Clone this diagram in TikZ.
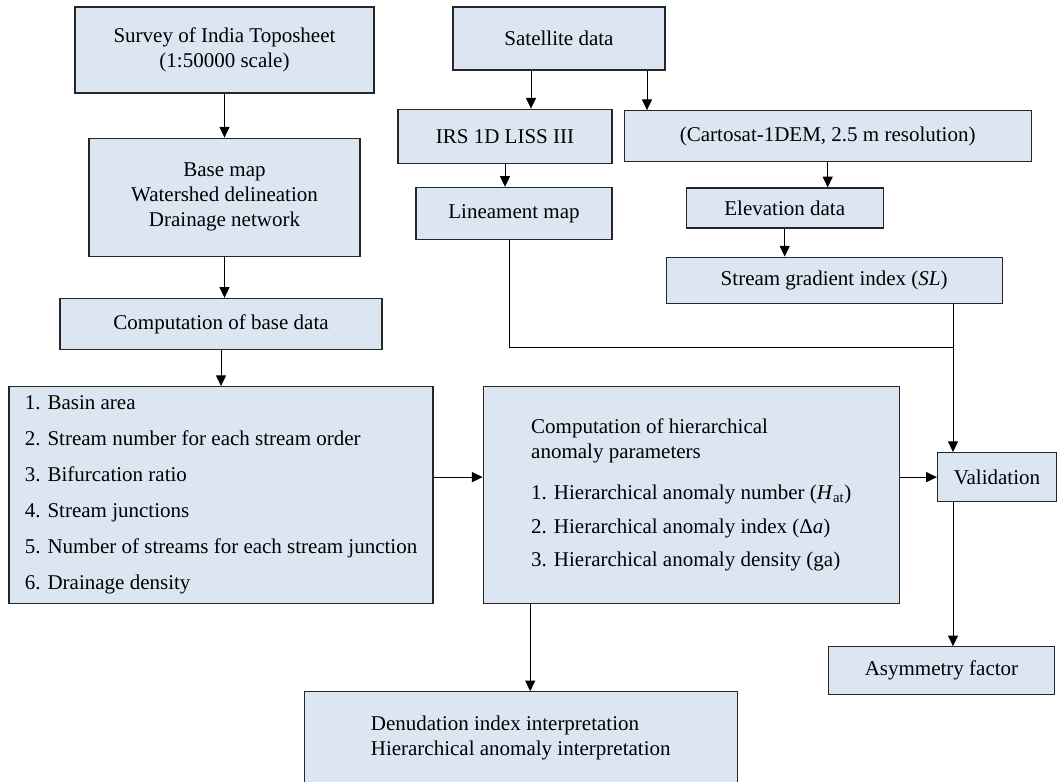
\documentclass[tikz,border=0pt]{standalone}
\usepackage{fontspec}
\setmainfont{Liberation Serif}
\usetikzlibrary{arrows.meta, positioning}

\definecolor{boxblue}{RGB}{220,230,242}

\begin{document}
\begin{tikzpicture}[x=0.75pt, y=-0.75pt,
    every node/.style={font=\fontsize{15.75}{18.75}\selectfont},
    box/.style={draw=black!85, line width=0.9pt, fill=boxblue, align=center, inner sep=0pt},
    flow/.style={draw=black, line width=0.75pt, -{Triangle[length=8pt,width=7.5pt]}}]
    \useasboundingbox (0,0) rectangle (1057,782);

        % Nodes
        \node (surveySheet) [box, minimum width=224.25pt, minimum height=64.5pt] at (224.5,50) {Survey of India Toposheet\\(1:50000 scale)};
        \node (baseMap) [box, minimum width=203.25pt, minimum height=88.5pt, below=33pt of surveySheet] {Base map\\Watershed delineation\\Drainage network};
        \node (baseData) [box, minimum width=241.5pt, minimum height=38.25pt, below=30.75pt of baseMap, xshift=-2.6pt] {Computation of base data};
        \node (basinList) [box, align=left, minimum width=318pt, minimum height=162.75pt, below=27pt of baseData] {1. Basin area\\[8.25pt]2. Stream number for each stream order\\[8.25pt]3. Bifurcation ratio\\[8.25pt]4. Stream junctions\\[8.25pt]5. Number of streams for each stream junction\\[8.25pt]6. Drainage density};
        \node (anomalyParams) [box, align=left, minimum width=312pt, minimum height=162.75pt, right=36.75pt of basinList] {Computation of hierarchical\\anomaly parameters\\[12pt]1. Hierarchical anomaly number (\textit{H}\textsubscript{at})\\[6.4pt]2. Hierarchical anomaly index (Δ\textit{a})\\[6.4pt]3. Hierarchical anomaly density (ga)};
        \node (interpretation) [box, align=left, minimum width=324.75pt, minimum height=69.75pt, below=65.25pt of anomalyParams, xshift=-127.9pt] {Denudation index interpretation\\Hierarchical anomaly interpretation};
        \node (satelliteData) [box, minimum width=159pt, minimum height=47.25pt] at (559,38.5) {Satellite data};
        \node (irsLiss) [box, minimum width=160.5pt, minimum height=40.5pt, below=28.5pt of satelliteData, xshift=-40.5pt] {IRS 1D LISS III};
        \node (cartosatDem) [box, minimum width=305.25pt, minimum height=38.25pt, right=8.25pt of irsLiss] {(Cartosat-1DEM, 2.5 m resolution)};
        \node (lineamentMap) [box, minimum width=147pt, minimum height=39pt, below=17.25pt of irsLiss, xshift=6.75pt] {Lineament map};
        \node (elevationData) [box, minimum width=147.75pt, minimum height=30pt, below=18.75pt of cartosatDem, xshift=-32.25pt] {Elevation data};
        \node (gradientIndex) [box, minimum width=252pt, minimum height=34.5pt, below=21pt of elevationData, xshift=37.1pt] {Stream gradient index (\textit{SL})};
        \node (validation) [box, minimum width=89.25pt, minimum height=36.75pt, right=27.75pt of anomalyParams, yshift=13.5pt] {Validation};
        \node (asymmetry) [box, minimum width=169.5pt, minimum height=36pt, below=108pt of validation, xshift=-41.6pt] {Asymmetry factor};
        \coordinate (lineJoin) at (953,347);

        % Arrows
        \draw[flow] (surveySheet) -- (baseMap);
        \draw[flow] (baseMap) -- (baseMap |- baseData.north);
        \draw[flow] (baseData) -- (baseData |- basinList.north);
        \draw[flow] (basinList.east |- validation) -- (anomalyParams.west |- validation);
        \draw[flow] (anomalyParams.east |- validation) -- (validation.west);
        \draw[flow] ([xshift=-120.75pt]anomalyParams.south) coordinate (toInterp) -- (toInterp |- interpretation.north);
        \draw[flow] ([xshift=-21pt]satelliteData.south) coordinate (toIrs) -- (toIrs |- irsLiss.north);
        \draw[flow] ([xshift=66pt]satelliteData.south) coordinate (toCarto) -- (toCarto |- cartosatDem.north);
        \draw[flow] (irsLiss) -- (irsLiss |- lineamentMap.north);
        \draw[flow] (cartosatDem) -- (cartosatDem |- elevationData.north);
        \draw[flow] (elevationData) -- (elevationData |- gradientIndex.north);
        \draw[line width=0.75pt] ([xshift=-3.75pt]lineamentMap.south) |- (lineJoin);
        \draw[flow] (gradientIndex.south -| lineJoin) -- (validation.north -| lineJoin);
        \draw[flow] (validation.south -| lineJoin) -- (asymmetry.north -| lineJoin);
    \end{tikzpicture}
\end{document}
